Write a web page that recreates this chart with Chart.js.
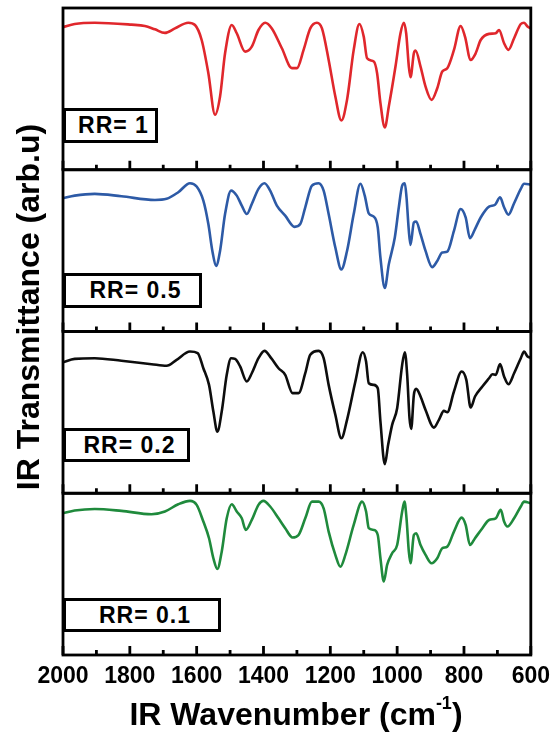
<!DOCTYPE html>
<html><head><meta charset="utf-8">
<script src="https://cdn.jsdelivr.net/npm/chart.js@4.4.1/dist/chart.umd.min.js"></script>
<style>
html,body{margin:0;padding:0;background:#fff;}
#wrap{position:relative;width:558px;height:734px;overflow:hidden;font-family:"Liberation Sans",Arial,sans-serif;color:#000;}
#c{position:absolute;left:0;top:0;}
.lab{position:absolute;left:63px;box-sizing:border-box;border:3px solid #000;background:#fff;font-weight:bold;font-size:23px;display:flex;align-items:center;justify-content:center;letter-spacing:1px;padding-left:6px;}
#ytitle{position:absolute;left:-272px;top:287px;width:600px;height:40px;line-height:40px;text-align:center;transform:rotate(-90deg);font-weight:bold;font-size:32px;white-space:nowrap;}
#xtitle{position:absolute;left:0;top:687px;width:592px;height:40px;line-height:40px;text-align:center;font-weight:bold;font-size:32px;white-space:nowrap;}
#xtitle sup{font-size:18px;position:relative;top:-4px;}
</style></head>
<body>
<div id="wrap">
<canvas id="c" width="558" height="734"></canvas>
<div class="lab" style="top:108px;width:95px;height:35px;">RR= 1</div>
<div class="lab" style="top:273px;width:139px;height:35px;">RR= 0.5</div>
<div class="lab" style="top:428px;width:127px;height:34px;">RR= 0.2</div>
<div class="lab" style="top:598px;width:158px;height:34px;">RR= 0.1</div>
<div id="ytitle">IR Transmittance (arb.u)</div>
<div id="xtitle">IR Wavenumber (cm<sup>-1</sup>)</div>
</div>
<script>
// ---- data (wavenumber in cm-1, transmittance in arb. units 0-100 per panel) ----
const majorTicks = [2000, 1800, 1600, 1400, 1200, 1000, 800, 600];
const minorTicks = [1900, 1700, 1500, 1300, 1100, 900, 700];

const wnRR1 = [2000,1965,1905,1795,1755,1725,1695,1665,1625,1605,1585,1565,1545,1530,1515,1495,1480,1455,1435,1415,1395,1375,1345,1315,1300,1280,1260,1240,1225,1205,1185,1167,1150,1130,1113,1100,1090,1070,1060,1050,1037,1025,1005,990,980,973,965,960,950,945,930,915,897,880,865,850,830,810,797,780,765,750,725,705,695,680,667,650,630,620,610,600];
const tRR1 = [88.1,90.1,90.9,89.7,88.9,86.8,84.6,87.4,90.9,89.5,80.2,59.7,34.0,45.3,72.0,89.5,84.4,73.0,76.1,86.4,90.9,87.4,75.1,62.8,62.8,74.1,87.4,90.9,87.4,67.9,45.3,30.5,43.2,74.1,90.1,82.3,68.9,66.9,59.7,41.2,26.1,39.1,63.8,84.4,90.9,84.4,63.8,57.2,72.0,73.7,63.8,51.4,43.2,50.4,60.7,62.8,74.1,88.9,82.3,67.9,72.0,80.2,84.0,84.4,86.4,78.2,74.1,81.3,90.1,90.9,88.5,87.4];

const wnRR05 = [2000,1965,1905,1825,1725,1690,1655,1620,1600,1580,1565,1553,1542,1530,1515,1497,1480,1465,1450,1435,1415,1397,1380,1360,1335,1307,1290,1275,1255,1235,1220,1205,1185,1167,1150,1130,1110,1097,1085,1070,1058,1050,1037,1025,1007,995,985,977,972,965,960,950,943,930,915,895,880,865,850,830,810,795,782,767,750,725,707,692,680,667,650,630,620,600];
const tRR05 = [82.4,84.0,85.1,83.6,81.3,82.0,86.1,91.7,89.6,80.9,66.4,49.8,40.5,49.8,72.6,87.1,84.0,77.8,72.6,78.8,88.2,91.7,87.1,77.8,71.6,64.7,66.4,76.8,90.2,91.7,87.1,72.6,51.9,38.4,49.8,72.6,91.3,84.0,73.0,71.0,64.3,45.6,27.0,41.5,58.1,76.8,90.2,91.7,83.0,62.2,53.5,67.4,68.0,60.2,49.8,39.8,43.6,48.8,49.4,62.2,75.7,70.5,57.7,63.3,70.5,77.2,78.4,83.0,76.8,72.2,79.3,88.2,91.3,90.9];

const wnRR02 = [2000,1965,1905,1825,1735,1690,1660,1620,1597,1580,1563,1550,1538,1525,1510,1497,1485,1470,1450,1435,1415,1397,1377,1355,1335,1313,1295,1275,1260,1235,1220,1205,1185,1167,1150,1125,1103,1093,1085,1070,1058,1050,1037,1027,1015,1000,985,977,970,963,958,950,943,930,915,890,875,860,850,830,807,793,780,767,745,725,715,705,692,680,667,650,630,620,610,600];
const tRR02 = [81.0,83.1,83.5,81.9,79.8,78.8,82.5,87.6,86.6,77.3,67.0,50.5,38.1,50.5,73.2,83.5,83.1,78.4,69.1,74.2,83.5,88.0,83.5,77.3,73.2,61.9,61.9,74.2,85.6,88.0,83.5,67.0,48.5,34.0,45.4,69.1,87.2,81.4,68.0,67.0,64.9,44.3,17.9,29.9,42.3,52.6,79.4,87.2,73.2,46.4,39.8,60.8,64.5,59.8,51.5,40.6,45.4,50.9,50.1,62.9,75.3,70.1,53.0,59.8,66.0,71.1,73.6,73.2,79.8,72.2,67.4,74.2,83.5,87.6,84.5,83.9];

const wnRR01 = [2000,1965,1905,1825,1735,1695,1655,1620,1600,1580,1563,1550,1538,1525,1510,1495,1480,1465,1453,1435,1415,1400,1380,1355,1335,1313,1295,1275,1255,1235,1220,1205,1185,1170,1155,1130,1105,1093,1085,1070,1058,1050,1040,1030,1015,1000,985,978,972,965,960,950,943,930,915,897,880,865,850,830,807,795,782,767,745,725,705,690,680,670,650,630,620,600];
const tRR01 = [87.6,89.3,90.3,89.1,87.0,88.7,93.2,95.3,92.8,82.5,72.2,59.8,53.2,63.9,84.5,93.2,88.7,84.5,77.3,83.5,92.8,95.3,91.8,84.5,78.4,72.6,74.2,84.5,94.8,94.8,90.7,76.3,61.9,54.6,61.9,80.4,94.8,88.7,78.4,77.3,74.2,59.8,45.4,55.7,62.9,68.0,88.7,94.8,84.5,63.9,56.7,74.2,75.3,68.0,61.9,56.7,59.8,66.0,67.0,76.3,84.9,80.4,68.0,72.2,78.4,83.5,84.5,89.7,82.5,79.4,84.5,91.8,94.8,93.8];

const seriesNames = ['RR= 1', 'RR= 0.5', 'RR= 0.2', 'RR= 0.1'];

// ---- chart ----
const FONT = '"Liberation Sans", Arial, sans-serif';
const pts = (wn, t) => wn.map((w, i) => ({x: w, y: t[i]}));
const panelIds = ['p1', 'p2', 'p3', 'p4'];

function mk(name, wn, t, color, axis) {
  return { label: name, data: pts(wn, t), borderColor: color, backgroundColor: color,
    borderWidth: 2.6, pointRadius: 0, fill: false, cubicInterpolationMode: 'monotone',
    xAxisID: 'x', yAxisID: axis };
}

function yAxis(weight) {
  return { type: 'linear', position: 'left', stack: 'ir', stackWeight: 1, weight: weight,
    min: 0, max: 100, display: true, offset: false,
    grid: { display: false, drawTicks: false }, border: { display: false },
    ticks: { display: false }, afterFit: s => { s.width = 0; } };
}

const framePlugin = {
  id: 'frame',
  afterDatasetsDraw(chart) {
    const ctx = chart.ctx, x = chart.scales.x;
    ctx.save();
    ctx.strokeStyle = '#000';
    ctx.lineWidth = 2.8;
    panelIds.forEach(id => {
      const s = chart.scales[id];
      ctx.strokeRect(x.left, s.top, x.right - x.left, s.bottom - s.top);
      ctx.beginPath();
      majorTicks.forEach(v => { const p = x.getPixelForValue(v); ctx.moveTo(p, s.bottom); ctx.lineTo(p, s.bottom - 9); });
      minorTicks.forEach(v => { const p = x.getPixelForValue(v); ctx.moveTo(p, s.bottom); ctx.lineTo(p, s.bottom - 5); });
      ctx.stroke();
    });
    ctx.restore();
  }
};

new Chart(document.getElementById('c'), {
  type: 'line',
  data: { datasets: [
    mk(seriesNames[0], wnRR1, tRR1, '#e0272c', 'p1'),
    mk(seriesNames[1], wnRR05, tRR05, '#2d5aa6', 'p2'),
    mk(seriesNames[2], wnRR02, tRR02, '#0d0d0d', 'p3'),
    mk(seriesNames[3], wnRR01, tRR01, '#1f8a3c', 'p4')
  ]},
  options: {
    responsive: false, animation: false, events: [],
    layout: { padding: { left: 63, right: 27, top: 8, bottom: 39 } },
    plugins: { legend: { display: false }, tooltip: { enabled: false }, title: { display: false } },
    scales: {
      x: { type: 'linear', position: 'bottom', reverse: true, min: 600, max: 2000,
        grid: { display: false, drawTicks: false }, border: { display: false },
        afterBuildTicks: s => { s.ticks = majorTicks.map(v => ({ value: v })); },
        afterFit: s => { s.height = 40; },
        ticks: { color: '#000', padding: 8, maxRotation: 0, autoSkip: false,
          font: { family: FONT, size: 23, weight: 'bold' }, callback: v => String(v) } },
      p1: yAxis(4), p2: yAxis(3), p3: yAxis(2), p4: yAxis(1)
    }
  },
  plugins: [framePlugin]
});
</script>
</body></html>
